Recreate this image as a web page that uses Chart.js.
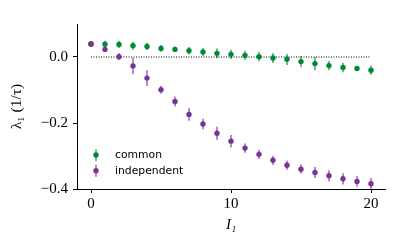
<!DOCTYPE html>
<html>
<head>
<meta charset="utf-8">
<script src="https://cdn.jsdelivr.net/npm/chart.js@4/dist/chart.umd.min.js"></script>
<style>
  html, body { margin: 0; padding: 0; background: #fff; }
  #wrap { width: 400px; height: 247px; }
</style>
</head>
<body>
<div id="wrap"><canvas id="lambdaChart"></canvas></div>
<script>
// I1 values on the x axis
const i1Values = [0, 1, 2, 3, 4, 5, 6, 7, 8, 9, 10, 11, 12, 13, 14, 15, 16, 17, 18, 19, 20];

// lambda_1 for the "common" case, with error bars
const commonMean = [0.040, 0.039, 0.038, 0.034, 0.032, 0.026, 0.023, 0.019, 0.015, 0.011, 0.008,
                    0.005, 0.001, -0.003, -0.007, -0.014, -0.020, -0.026, -0.032, -0.035, -0.040];
const commonErr = [0.008, 0.010, 0.011, 0.012, 0.011, 0.010, 0.008, 0.011, 0.012, 0.015, 0.014,
                   0.014, 0.014, 0.015, 0.017, 0.016, 0.020, 0.014, 0.014, 0.007, 0.014];

// lambda_1 for the "independent" case, with error bars
const indepMean = [0.039, 0.023, 0.001, -0.027, -0.064, -0.099, -0.135, -0.174, -0.203, -0.231, -0.255,
                   -0.276, -0.295, -0.313, -0.328, -0.340, -0.350, -0.360, -0.369, -0.377, -0.384];
const indepErr = [0.004, 0.008, 0.011, 0.025, 0.024, 0.012, 0.015, 0.019, 0.016, 0.020, 0.019,
                  0.014, 0.014, 0.014, 0.014, 0.014, 0.017, 0.017, 0.017, 0.016, 0.017];

// reference line and tick labels
const zeroLineX = [0, 20];
const xTicks = [0, 10, 20];
const yTicks = [-0.4, -0.2, 0.0];

const GREEN = '#008837';
const PURPLE = '#7b3294';
const SERIF = '"Liberation Serif", "DejaVu Serif", serif';

function toPoints(xs, ys) {
  return xs.map((x, i) => ({ x: x, y: ys[i] }));
}

function fmtTick(v) {
  const s = Math.abs(v).toFixed(1);
  return v < -1e-9 ? '\u2212' + s : s;
}

// vertical error bars drawn through the chart scales
const errorBarPlugin = {
  id: 'errorBars',
  beforeDatasetsDraw(chart) {
    const ctx = chart.ctx;
    const xs = chart.scales.x;
    const ys = chart.scales.y;
    chart.data.datasets.forEach(ds => {
      if (!ds.errors) return;
      ctx.save();
      ctx.strokeStyle = ds.borderColor;
      ctx.globalAlpha = 0.75;
      ctx.lineWidth = 1.5;
      ds.data.forEach((p, i) => {
        const px = xs.getPixelForValue(p.x);
        ctx.beginPath();
        ctx.moveTo(px, ys.getPixelForValue(p.y - ds.errors[i]));
        ctx.lineTo(px, ys.getPixelForValue(p.y + ds.errors[i]));
        ctx.stroke();
      });
      ctx.restore();
    });
  }
};

// legend inside the axes, lower left, with errorbar markers
const insideLegend = {
  id: 'insideLegend',
  afterDraw(chart) {
    const ctx = chart.ctx;
    const items = chart.data.datasets.filter(d => d.errors);
    const x0 = 96, y0 = 155, step = 15.7;
    ctx.save();
    items.forEach((ds, i) => {
      const y = y0 + i * step;
      ctx.strokeStyle = ds.borderColor;
      ctx.globalAlpha = 0.75;
      ctx.lineWidth = 1.5;
      ctx.beginPath();
      ctx.moveTo(x0, y - 6);
      ctx.lineTo(x0, y + 6);
      ctx.stroke();
      ctx.globalAlpha = 1;
      ctx.fillStyle = ds.backgroundColor;
      ctx.beginPath();
      ctx.arc(x0, y, 2.7, 0, Math.PI * 2);
      ctx.fill();
      ctx.fillStyle = '#000';
      ctx.font = '10.8px "DejaVu Sans", sans-serif';
      ctx.textBaseline = 'middle';
      ctx.fillText(ds.label, 115, y);
    });
    ctx.restore();
  }
};

const ctx = document.getElementById('lambdaChart').getContext('2d');
new Chart(ctx, {
  type: 'scatter',
  data: {
    datasets: [
      {
        type: 'line',
        label: 'zero',
        data: toPoints(zeroLineX, [0, 0]),
        borderColor: '#000',
        borderWidth: 1,
        borderDash: [1, 1.5],
        pointRadius: 0,
        fill: false,
        order: 2
      },
      {
        label: 'common',
        data: toPoints(i1Values, commonMean),
        errors: commonErr,
        borderColor: GREEN,
        backgroundColor: GREEN,
        pointRadius: 2.7,
        pointBorderWidth: 0,
        order: 1
      },
      {
        label: 'independent',
        data: toPoints(i1Values, indepMean),
        errors: indepErr,
        borderColor: PURPLE,
        backgroundColor: PURPLE,
        pointRadius: 2.7,
        pointBorderWidth: 0,
        order: 0
      }
    ]
  },
  options: {
    responsive: true,
    maintainAspectRatio: false,
    animation: false,
    layout: { padding: { left: 0, top: 24, right: 15, bottom: 0 } },
    plugins: {
      legend: { display: false },
      tooltip: { enabled: false }
    },
    scales: {
      x: {
        type: 'linear',
        min: -1,
        max: 21,
        afterBuildTicks: s => { s.ticks = xTicks.map(v => ({ value: v })); },
        afterFit: s => { s.height = 58; },
        grid: { drawOnChartArea: false, drawTicks: true, tickLength: 4, color: '#000' },
        border: { display: true, color: '#000', width: 1 },
        ticks: { color: '#000', font: { family: SERIF, size: 15 }, padding: 2, maxRotation: 0 },
        title: {
          display: true,
          text: 'I\u2081',
          color: '#000',
          font: { family: SERIF, size: 15, style: 'italic' },
          padding: { top: 0, bottom: 13 }
        }
      },
      y: {
        type: 'linear',
        min: -0.4,
        max: 0.1,
        afterBuildTicks: s => { s.ticks = yTicks.map(v => ({ value: v })); },
        afterFit: s => { s.width = 77; },
        grid: { drawOnChartArea: false, drawTicks: true, tickLength: 4, color: '#000' },
        border: { display: true, color: '#000', width: 1 },
        ticks: { color: '#000', font: { family: SERIF, size: 15 }, padding: 5, callback: v => fmtTick(v) },
        title: {
          display: true,
          text: '\u03bb\u2081 (1/\u03c4)',
          color: '#000',
          font: { family: SERIF, size: 15.5 },
          padding: { top: 8, bottom: 0 }
        }
      }
    }
  },
  plugins: [errorBarPlugin, insideLegend]
});
</script>
</body>
</html>
